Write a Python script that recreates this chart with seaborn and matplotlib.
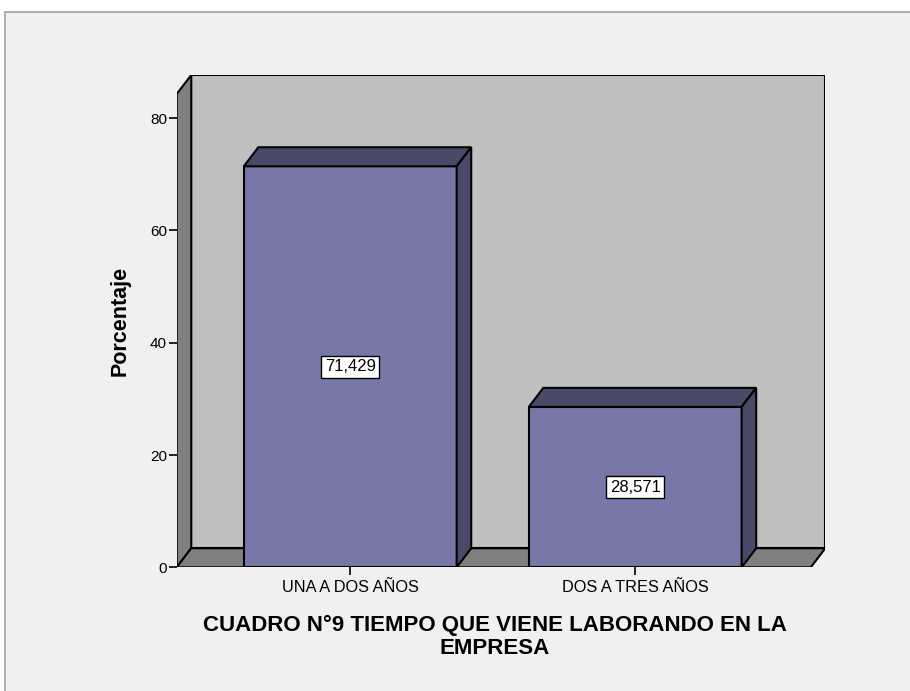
import matplotlib
matplotlib.use("Agg")
import matplotlib.pyplot as plt
from matplotlib.patches import Polygon, Rectangle
import seaborn as sns

# data
categorias = ["UNA A DOS AÑOS", "DOS A TRES AÑOS"]
porcentajes = [71.429, 28.571]
etiquetas = ["71,429", "28,571"]
y_ticks = [0, 20, 40, 60, 80]
titulo = ["CUADRO N°9 TIEMPO QUE VIENE LABORANDO EN LA", "EMPRESA"]

sns.set_style("white")
plt.rcParams["font.family"] = ["Liberation Sans", "DejaVu Sans"]
plt.rcParams["text.color"] = "black"
plt.rcParams["axes.labelcolor"] = "black"
plt.rcParams["xtick.color"] = "black"
plt.rcParams["ytick.color"] = "black"

fig = plt.figure(figsize=(9.1, 6.91), dpi=100, facecolor="white")

# gray panel with frame, like the SPSS output viewer
fig.patches.append(Rectangle((5 / 910, -0.1), 1.1, 1 - 12 / 691 + 0.1,
                             transform=fig.transFigure, facecolor="#f0f0f0",
                             edgecolor="#a0a0a0", linewidth=1.2, zorder=-5))

ax = fig.add_axes([176.7 / 910, 1 - 567.3 / 691, 648.6 / 910, 492.3 / 691])
ax.set_facecolor("none")

# 3d depth offsets (data units)
dx = 0.051
dy = 3.39
x_left, x_right = -0.609, 1.616
y_top = 84.3

front = "#7878a8"
dark = "#4a4a68"

# walls and floor
ax.add_patch(Rectangle((x_left + dx, dy), x_right - x_left, y_top, facecolor="#c0c0c0",
                       edgecolor="black", linewidth=1.5, zorder=0.5))
ax.add_patch(Polygon([(x_left, 0), (x_left, y_top), (x_left + dx, y_top + dy), (x_left + dx, dy)],
                     closed=True, facecolor="#808080", edgecolor="black", linewidth=1.5, zorder=0.6))
ax.add_patch(Polygon([(x_left, 0), (x_right, 0), (x_right + dx, dy), (x_left + dx, dy)],
                     closed=True, facecolor="#808080", edgecolor="black", linewidth=1.5, zorder=0.6))

sns.barplot(x=categorias, y=porcentajes, width=0.747, color=front, saturation=1,
            edgecolor="black", linewidth=1.5, ax=ax, zorder=1)

for bar, lab in zip(ax.containers[0], etiquetas):
    x0 = bar.get_x()
    x1 = x0 + bar.get_width()
    h = bar.get_height()
    ax.add_patch(Polygon([(x0, h), (x0 + dx, h + dy), (x1 + dx, h + dy), (x1, h)],
                         closed=True, facecolor=dark, edgecolor="black", linewidth=1.5, zorder=2))
    ax.add_patch(Polygon([(x1, 0), (x1, h), (x1 + dx, h + dy), (x1 + dx, dy)],
                         closed=True, facecolor=dark, edgecolor="black", linewidth=1.5, zorder=2))
    ax.text(x0 + bar.get_width() / 2, h / 2, lab, ha="center", va="center", fontsize=12,
            zorder=3, bbox=dict(boxstyle="square,pad=0.22", facecolor="white",
                                edgecolor="black", linewidth=1))

ax.set_xlim(x_left, x_right + dx)
ax.set_ylim(0, y_top + dy)
ax.set_yticks(y_ticks)
ax.set_yticklabels([str(t) for t in y_ticks], fontsize=11)
ax.tick_params(axis="y", direction="out", length=6, width=1.2, pad=1, left=True)
ax.tick_params(axis="x", direction="out", length=6, width=1.2, pad=3, bottom=True, labelsize=11.8)
for s in ["top", "right", "bottom", "left"]:
    ax.spines[s].set_visible(False)
ax.set_xlabel("")
ax.set_ylabel("Porcentaje", fontsize=15.5, fontweight="bold", labelpad=14)

# two-line title under the chart
for linea, base in zip(titulo, [631.5, 654.5]):
    fig.text(495 / 910, 1 - base / 691, linea, ha="center", va="baseline",
             fontsize=16, fontweight="bold")

fig.savefig("out.png", dpi=100, facecolor=fig.get_facecolor())
